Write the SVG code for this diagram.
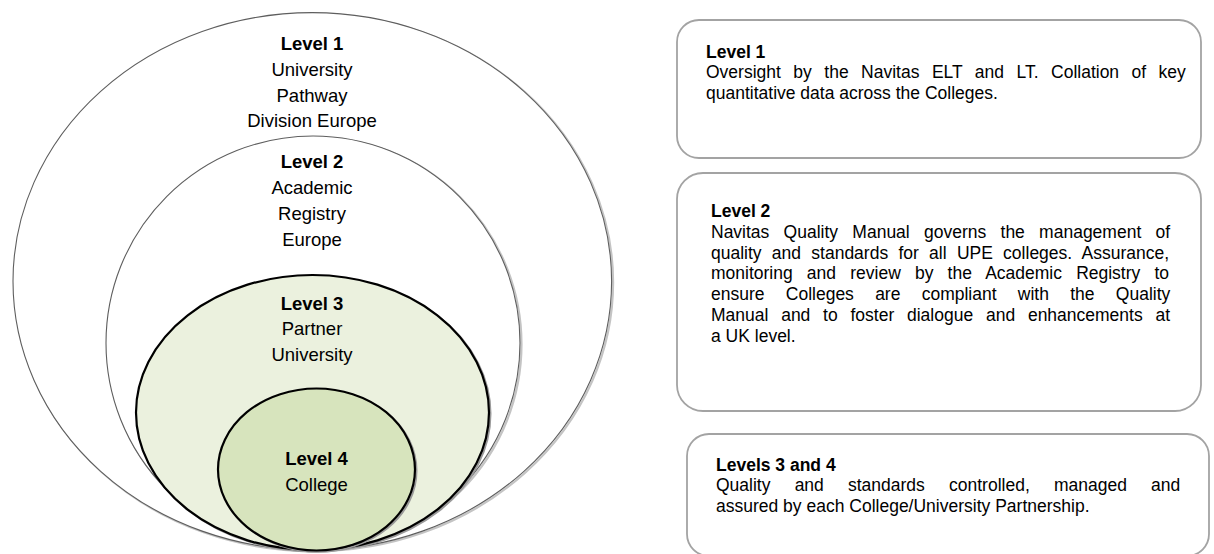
<svg xmlns="http://www.w3.org/2000/svg" width="1214" height="554" viewBox="0 0 1214 554">
<style>
  .ring{fill:#ffffff;stroke:#5e5e5e;stroke-width:1.1}
  .ringsh{fill:none;stroke:#c4c4c4;stroke-width:2.2}
  .inner{stroke:#000000;stroke-width:2.2}
  .innersh{fill:none;stroke:#9a9a9a;stroke-width:2}
  .ct{font-family:"Liberation Sans",Arial,sans-serif;font-size:18.5px;fill:#000;text-anchor:middle}
  .b{font-weight:bold}
  .box{fill:#ffffff;stroke:#a3a3a3;stroke-width:1.8}
  .bt{font-family:"Liberation Sans",Arial,sans-serif;font-size:17.5px;fill:#000}
</style>
<rect width="1214" height="554" fill="#ffffff"/>
<g id="connectors"></g>
<g id="level1-ring">
  <ellipse class="ringsh" cx="313.8" cy="282.5" rx="299.3" ry="268.7"/>
  <ellipse class="ring" cx="312.3" cy="281.3" rx="299.3" ry="268.7"/>
  <text class="ct b" x="312" y="49.5">Level 1</text>
  <text class="ct" x="312" y="76">University</text>
  <text class="ct" x="312" y="101.5">Pathway</text>
  <text class="ct" x="312" y="127">Division Europe</text>
</g>
<g id="level2-ring">
  <ellipse class="ringsh" cx="314.5" cy="344.3" rx="207" ry="207"/>
  <ellipse class="ring" cx="313" cy="343" rx="207" ry="207"/>
  <text class="ct b" x="312" y="168">Level 2</text>
  <text class="ct" x="312" y="194">Academic</text>
  <text class="ct" x="312" y="220">Registry</text>
  <text class="ct" x="312" y="246">Europe</text>
</g>
<g id="level3-ring">
  <ellipse class="innersh" cx="314" cy="413.8" rx="176.5" ry="137.5"/>
  <ellipse class="inner" fill="#ebf1de" cx="312.5" cy="412.5" rx="176.5" ry="137.5"/>
  <text class="ct b" x="312" y="309.5">Level 3</text>
  <text class="ct" x="312" y="335">Partner</text>
  <text class="ct" x="312" y="361">University</text>
</g>
<g id="level4-ring">
  <ellipse class="innersh" cx="318" cy="470.8" rx="98.5" ry="81"/>
  <ellipse class="inner" fill="#d7e4bd" cx="316.5" cy="469.5" rx="98.5" ry="81"/>
  <text class="ct b" x="316.5" y="465">Level 4</text>
  <text class="ct" x="316.5" y="491">College</text>
</g>
<g id="box-level1">
  <rect class="box" x="677" y="20" width="524" height="138" rx="22" ry="22"/>
  <text class="bt b" x="706" y="57.5">Level 1</text>
  <text class="bt" x="706" y="78" word-spacing="7.6">Oversight by the Navitas ELT and LT. Collation of key</text>
  <text class="bt" x="706" y="98.5">quantitative data across the Colleges.</text>
</g>
<g id="box-level2">
  <rect class="box" x="677" y="173" width="524" height="238" rx="26" ry="26"/>
  <text class="bt b" x="711" y="217">Level 2</text>
  <text class="bt" x="711" y="237.8" word-spacing="9.4">Navitas Quality Manual governs the management of</text>
  <text class="bt" x="711" y="258.6" word-spacing="5.4">quality and standards for all UPE colleges. Assurance,</text>
  <text class="bt" x="711" y="279.4" word-spacing="9.3">monitoring and review by the Academic Registry to</text>
  <text class="bt" x="711" y="300.2" word-spacing="16.4">ensure Colleges are compliant with the Quality</text>
  <text class="bt" x="711" y="321" word-spacing="7.9">Manual and to foster dialogue and enhancements at</text>
  <text class="bt" x="711" y="341.8">a UK level.</text>
</g>
<g id="box-levels3-4">
  <rect class="box" x="687" y="434" width="522" height="122" rx="22" ry="22"/>
  <text class="bt b" x="716" y="470.5">Levels 3 and 4</text>
  <text class="bt" x="716" y="491" word-spacing="19.3">Quality and standards controlled, managed and</text>
  <text class="bt" x="716" y="511.5">assured by each College/University Partnership.</text>
</g>
</svg>
